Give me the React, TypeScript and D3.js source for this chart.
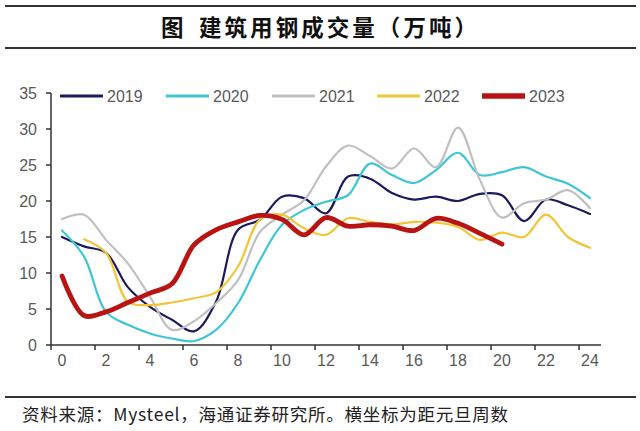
import React from "react";
import * as d3 from "d3";

const weeks = [0,1,2,3,4,5,6,7,8,9,10,11,12,13,14,15,16,17,18,19,20,21,22,23,24];
const xTickLabels = [0,2,4,6,8,10,12,14,16,18,20,22,24];
const yTicks = [0,5,10,15,20,25,30,35];

const s2019 = [15.0,13.7,12.8,8.0,5.3,3.5,1.9,6.0,16.0,17.4,20.6,20.4,18.3,23.4,23.1,21.1,20.2,20.6,20.0,21.0,20.8,17.2,20.2,19.4,18.2];
const s2020 = [15.9,12.3,4.6,2.8,1.6,0.9,0.55,2.1,5.8,11.8,16.7,18.75,19.9,20.8,25.2,23.6,22.5,24.3,26.7,23.6,24.0,24.7,23.4,22.4,20.4];
const s2021 = [17.5,18.1,14.6,11.3,6.7,2.1,3.3,5.8,9.0,15.7,18.1,20.1,24.8,27.7,26.25,24.5,27.3,24.7,30.2,22.9,17.7,19.7,20.2,21.5,19.0];
const s2022 = [null,14.7,12.8,6.0,5.55,5.9,6.5,7.3,10.9,17.4,18.1,16.2,15.3,17.6,17.1,16.75,17.1,17.0,16.4,14.6,15.6,15.0,18.1,15.0,13.5];
const s2023 = [9.6,4.1,4.6,5.9,7.2,8.5,13.9,16.0,17.1,18.0,17.45,15.3,17.7,16.5,16.7,16.5,15.9,17.6,16.9,15.5,14.0];

const seriesNames = ["2019","2020","2021","2022","2023"];
const seriesData = [s2019, s2020, s2021, s2022, s2023];
const seriesColors = ["#1c1a5e","#3ec5d6","#c0c0c0","#f2c537","#b81414"];
const seriesWidths = [2.2,2.2,2.2,2.2,4.8];

const titleLead = "图";
const titleMain = "建筑用钢成交量（万吨）";
const footer = "资料来源：Mysteel，海通证券研究所。横坐标为距元旦周数";

export default function App() {
  const W = 640, H = 431;
  const x = d3.scaleBand<number>().domain(weeks).range([51, 601]).padding(0);
  const bw = x.bandwidth();
  const cx = (i: number) => (x(i) as number) + bw / 2;
  const y = d3.scaleLinear().domain([0, 35]).range([345, 93]);
  const line = d3.line<number | null>()
    .defined((d) => d !== null)
    .x((_, i) => cx(weeks[i]))
    .y((d) => y(d as number))
    .curve(d3.curveCatmullRom.alpha(0.5));

  const axisColor = "#333";
  const textColor = "#595959";
  const font = "Arial, 'Liberation Sans', 'Noto Sans CJK SC', sans-serif";
  const cjk = "'Noto Sans CJK SC', sans-serif";
  const legendX = [60, 166, 272, 377, 482];

  return (
    <svg width={W} height={H} style={{ position: "absolute", left: 0, top: 0, background: "#fff" }}>
      <rect x={0} y={0} width={W} height={H} fill="#fff" />
      {/* title */}
      <line x1={5} x2={636} y1={6} y2={6} stroke="#333" strokeWidth={2} />
      <text x={161} y={36} fontFamily={cjk} fontWeight={700} fontSize={22.5} fill="#111">{titleLead}</text>
      <text x={199} y={36} textLength={278} lengthAdjust="spacing" fontFamily={cjk} fontWeight={700} fontSize={22.5} fill="#111">{titleMain}</text>
      <line x1={5} x2={636} y1={48} y2={48} stroke="#333" strokeWidth={2} />

      {/* y axis */}
      <line x1={51} x2={51} y1={y(35)} y2={y(0)} stroke={axisColor} strokeWidth={1.5} />
      {yTicks.map((t) => (
        <g key={t}>
          <line x1={46} x2={51} y1={y(t)} y2={y(t)} stroke={axisColor} strokeWidth={1.5} />
          <text x={37} y={y(t)} dy="0.35em" textAnchor="end" fontFamily={font} fontSize={16} fill={textColor}>{t}</text>
        </g>
      ))}
      {/* x axis */}
      <line x1={51} x2={601} y1={y(0)} y2={y(0)} stroke={axisColor} strokeWidth={1.5} />
      {xTickLabels.map((t) => (
        <g key={t}>
          <line x1={x(t) as number} x2={x(t) as number} y1={y(0)} y2={y(0) + 5} stroke={axisColor} strokeWidth={1.5} />
          <text x={cx(t)} y={y(0) + 21} textAnchor="middle" fontFamily={font} fontSize={16} fill={textColor}>{t}</text>
        </g>
      ))}

      {/* series */}
      {seriesData.map((s, k) => (
        <path key={seriesNames[k]} d={line(s) || ""} fill="none" stroke={seriesColors[k]} strokeWidth={seriesWidths[k]} strokeLinejoin="round" strokeLinecap="round" />
      ))}

      {/* legend */}
      {seriesNames.map((n, k) => (
        <g key={n}>
          <line x1={legendX[k]} x2={legendX[k] + 43} y1={96} y2={96} stroke={seriesColors[k]} strokeWidth={seriesWidths[k] + 0.6} />
          <text x={legendX[k] + 47} y={96} dy="0.35em" fontFamily={font} fontSize={16} fill={textColor}>{n}</text>
        </g>
      ))}

      {/* footer */}
      <line x1={5} x2={636} y1={397} y2={397} stroke="#333" strokeWidth={2} />
      <text x={22} y={421} textLength={486} lengthAdjust="spacing" fontFamily="'Noto Sans CJK SC', Arial, sans-serif" fontSize={17.5} fill="#222">{footer}</text>
    </svg>
  );
}
